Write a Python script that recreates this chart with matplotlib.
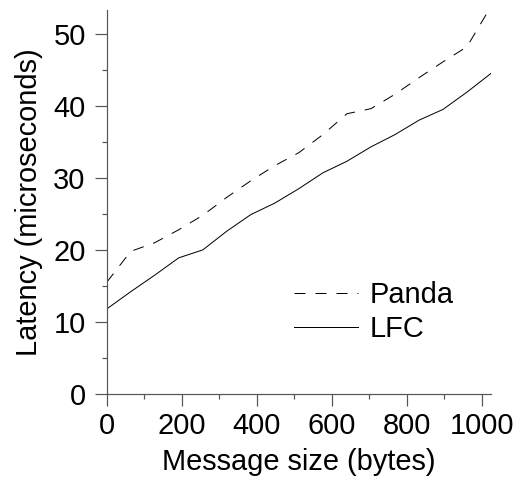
import matplotlib
matplotlib.use("Agg")
import matplotlib.pyplot as plt
from matplotlib.ticker import MultipleLocator

sizes = [0, 64, 128, 192, 256, 320, 384, 448, 512, 576, 640, 704, 768, 832, 896, 960, 1024]
panda = [15.5, 19.8, 21.0, 22.8, 24.8, 27.3, 29.6, 31.7, 33.5, 36.0, 38.9, 39.6, 41.6, 43.9, 46.1, 48.2, 53.8]
lfc = [11.8, 14.2, 16.5, 18.9, 20.0, 22.6, 24.9, 26.5, 28.5, 30.7, 32.3, 34.3, 36.0, 38.0, 39.5, 41.9, 44.5]

plt.rcParams['font.family'] = ['Liberation Sans', 'DejaVu Sans']
FS = 29
spine_c = '#555555'

fig = plt.figure(figsize=(516/72, 480/72), dpi=72)
ax = fig.add_axes([106.7/516, 86/480, (491-106.7)/516, (470-86)/480])

ax.plot(sizes, panda, color='black', lw=1, dashes=(11, 10), label='Panda', clip_on=True)
ax.plot(sizes, lfc, color='black', lw=1, label='LFC')

ax.set_xlim(0, 1024)
ax.set_ylim(0, 53.3)
for s in ['top', 'right']:
    ax.spines[s].set_visible(False)
for s in ['left', 'bottom']:
    ax.spines[s].set_color(spine_c)
    ax.spines[s].set_linewidth(1.2)

ax.xaxis.set_major_locator(MultipleLocator(200))
ax.xaxis.set_minor_locator(MultipleLocator(100))
ax.yaxis.set_major_locator(MultipleLocator(10))
ax.yaxis.set_minor_locator(MultipleLocator(5))
ax.tick_params(which='major', direction='out', length=12, width=1.2, color=spine_c, labelsize=FS)
ax.tick_params(which='minor', direction='out', length=5, width=1.2, color=spine_c)
ax.tick_params(axis='x', which='major', pad=6)
ax.tick_params(axis='y', which='major', pad=9)

ax.set_xlabel('Message size (bytes)', fontsize=FS, labelpad=8)
ax.set_ylabel('Latency (microseconds)', fontsize=FS, labelpad=10)

leg = ax.legend(loc='center left', bbox_to_anchor=((294-106.7)/(491-106.7), (394-312)/384),
                frameon=False, fontsize=FS, handlelength=64/FS, handletextpad=12/FS,
                labelspacing=0.2, borderaxespad=0, borderpad=0)

fig.savefig('out.png', dpi=72)
